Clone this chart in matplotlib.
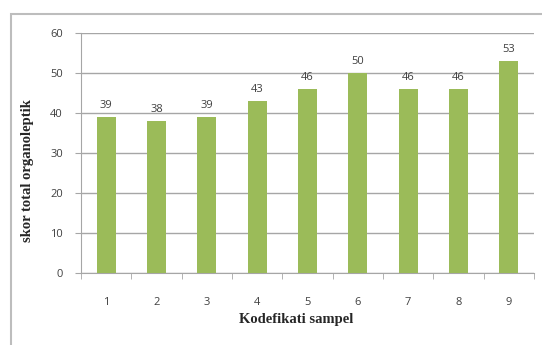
import matplotlib
matplotlib.use("Agg")
import matplotlib.pyplot as plt
from matplotlib.patches import Rectangle

sampel = ["1", "2", "3", "4", "5", "6", "7", "8", "9"]
skor = [39, 38, 39, 43, 46, 50, 46, 46, 53]

fig = plt.figure(figsize=(5.42, 3.45), dpi=100)
fig.patch.set_facecolor("white")

# outer chart border (runs off the right and bottom edges)
fig.patches.append(Rectangle((11 / 542, -0.05), 1.0, 1 - 14 / 345 + 0.05,
                             transform=fig.transFigure, fill=False,
                             edgecolor="#bdbdbd", linewidth=1.5))

ax = fig.add_axes([81 / 542, 1 - 273 / 345, 453 / 542, 240 / 345])
x = range(len(sampel))
ax.bar(x, skor, width=0.38, color="#9bbb59", zorder=3)

for xi, v in zip(x, skor):
    ax.text(xi, v + 1.5, str(v), ha="center", va="bottom",
            fontsize=8, color="#404040", family="Open Sans")

ax.set_ylim(0, 60)
ax.set_xlim(-0.5, len(sampel) - 0.5)
ax.set_yticks(range(0, 61, 10))
ax.yaxis.grid(True, color="#a6a6a6", linewidth=1.0, zorder=0)
ax.set_xticks(list(x))
ax.set_xticklabels(sampel)
ax.set_xticks([i + 0.5 for i in range(-1, len(sampel))], minor=True)
ax.tick_params(axis="x", which="major", length=0, pad=17)
ax.tick_params(axis="x", which="minor", length=4, color="#a6a6a6")
ax.tick_params(axis="y", length=4, color="#a6a6a6", pad=9)
for lbl in ax.get_xticklabels() + ax.get_yticklabels():
    lbl.set_fontsize(8)
    lbl.set_color("#404040")
    lbl.set_family("Open Sans")

for s in ["top", "right"]:
    ax.spines[s].set_visible(False)
ax.spines["left"].set_color("#a6a6a6")
ax.spines["bottom"].set_color("#a6a6a6")

ax.set_xlabel("Kodefikati sampel", family="Liberation Serif",
              fontweight="bold", fontsize=10.5, color="#262626")
ax.xaxis.set_label_coords((296 - 81) / 453, -(320 - 273) / 240)
ax.xaxis.label.set_va("center")
ax.set_ylabel("skor total organoleptik", family="Liberation Serif",
              fontweight="bold", fontsize=10.5, color="#262626")
ax.yaxis.set_label_coords((27 - 81) / 453, (273 - 171) / 240)
ax.yaxis.label.set_va("center")

fig.savefig("out.png", dpi=100)
